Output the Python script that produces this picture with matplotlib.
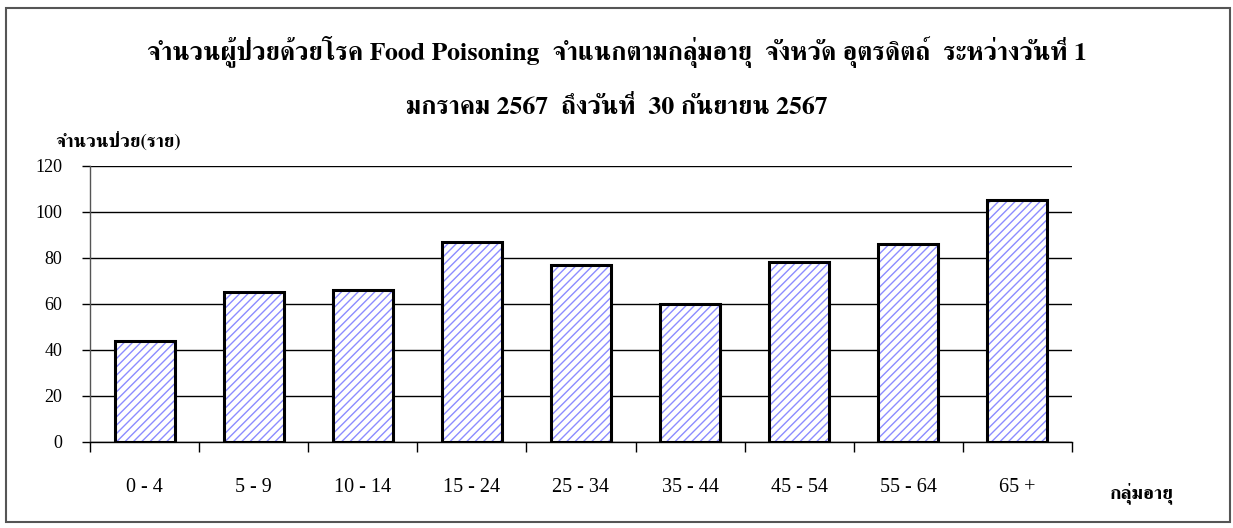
import matplotlib
matplotlib.use("Agg")
import matplotlib.pyplot as plt
from matplotlib.patches import Rectangle
import numpy as np

plt.rcParams["font.family"] = ["Liberation Serif", "FreeSerif"]
plt.rcParams["hatch.linewidth"] = 1.0

# data
age_groups = ["0 - 4", "5 - 9", "10 - 14", "15 - 24", "25 - 34", "35 - 44", "45 - 54", "55 - 64", "65 +"]
patients = [44, 65, 66, 87, 77, 60, 78, 86, 105]
y_ticks = [0, 20, 40, 60, 80, 100, 120]

title1 = "จำนวนผู้ป่วยด้วยโรค Food Poisoning  จำแนกตามกลุ่มอายุ  จังหวัด อุตรดิตถ์  ระหว่างวันที่ 1"
title2 = "มกราคม 2567  ถึงวันที่  30 กันยายน 2567"
ylab = "จำนวนป่วย(ราย)"
xlab = "กลุ่มอายุ"

thai = ["FreeSerif", "Liberation Serif"]

fig = plt.figure(figsize=(12.33, 5.28), dpi=100)
ax = fig.add_axes([90 / 1233, 1 - 442 / 528, (1072 - 90) / 1233, (442 - 165.7) / 528])

x = np.arange(len(age_groups))
# hatch layer, then black outline
ax.bar(x, patients, width=0.55, color="white", edgecolor="#8c8cff", hatch="////", linewidth=0, zorder=3)
ax.bar(x, patients, width=0.55, fill=False, edgecolor="black", linewidth=2.2, zorder=4)

ax.set_xlim(-0.5, len(age_groups) - 0.5)
ax.set_ylim(0, 120)
ax.set_yticks(y_ticks)
ax.yaxis.grid(True, color="black", linewidth=1)
ax.set_axisbelow(True)

ax.set_xticks(x)
ax.set_xticklabels(age_groups, fontsize=14.5)
ax.set_xticks(np.arange(len(age_groups) + 1) - 0.5, minor=True)
ax.tick_params(axis="x", which="major", length=0, pad=26)
ax.tick_params(axis="x", which="minor", length=7.2, width=1, direction="out")
ax.tick_params(axis="y", length=5.8, width=1, direction="out", pad=14, labelsize=13)

for s in ["top", "right"]:
    ax.spines[s].set_visible(False)
ax.spines["left"].set_color("#555555")
ax.spines["left"].set_linewidth(1)
ax.spines["bottom"].set_linewidth(1)

fig.text(0.5, 1 - 52 / 528, title1, ha="center", va="center", fontsize=18.5, weight="bold", family=thai)
fig.text(0.5, 1 - 107 / 528, title2, ha="center", va="center", fontsize=18.5, weight="bold", family=thai)
fig.text(55 / 1233, 1 - 141 / 528, ylab, ha="left", va="center", fontsize=13.5, weight="bold", family=thai)
fig.text(1110 / 1233, 1 - 493 / 528, xlab, ha="left", va="center", fontsize=14, weight="bold", family=thai)

fig.patches.append(Rectangle((6 / 1233, 6 / 528), (1230 - 6) / 1233, (522 - 8) / 528,
                             transform=fig.transFigure, fill=False, edgecolor="#555555", linewidth=1.5))

fig.savefig("out.png", dpi=100)
